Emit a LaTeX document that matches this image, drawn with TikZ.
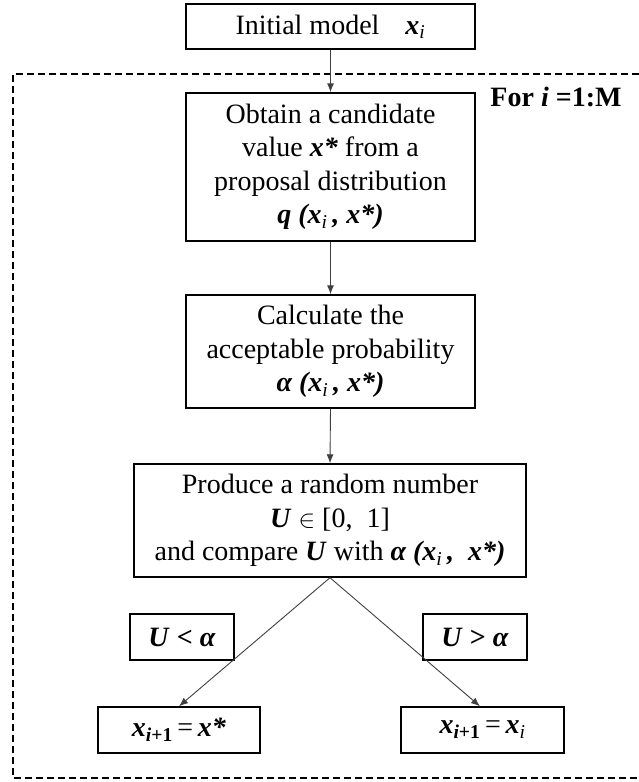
\documentclass[tikz,border=0pt]{standalone}
\usepackage{fontspec}
\setmainfont{Liberation Serif}
\usetikzlibrary{arrows.meta}

% bold italic variables, light italic subscripts
\newcommand{\bv}[1]{\textbf{\textit{#1}}}
\newcommand{\sbi}[1]{\textsubscript{\mdseries\itshape #1}}

\begin{document}
\begin{tikzpicture}[x=1pt,y=-1pt,
  every node/.style={font=\fontsize{28}{33.5}\selectfont},
  box/.style={draw, line width=1.4pt, rectangle, inner sep=0pt, align=center},
  link/.style={draw=black!75, line width=0.9pt, -{Latex[length=9pt,width=7pt]}},
  frame/.style={draw, line width=1.1pt, dash pattern=on 7pt off 4pt}]
\useasboundingbox (0,0) rectangle (639,782);
\fill[white] (0,0) rectangle (639,782);

% loop frame
\draw[frame] (650,74) -- (13,74) -- (13,778) -- (650,778);
\node (loop) at (556,97) {\textbf{For \textit{i} =1:M}};

% main steps
\node[box, minimum width=289pt, minimum height=45pt] (init) at (330.5,26.5)
  {Initial model\hspace{26pt}\bv{x}\sbi{i}};
\node[box, minimum width=289pt, minimum height=148pt] (cand) at (330.5,167)
  {Obtain a candidate\\ value \bv{x*} from a\\ proposal distribution\\ \bv{q (x\sbi{i}\,, x*)}};
\node[box, minimum width=289pt, minimum height=113pt] (prob) at (330.5,351.5)
  {Calculate the\\ acceptable probability\\ \bv{α (x\sbi{i}\,, x*)}};
\node[box, minimum width=392pt, minimum height=113pt] (rand) at (330,520.5)
  {Produce a random number\\ \textbf{\textit{U}} $\in$ [0,\ \ 1]\\ and compare \bv{U} with \bv{α (x\sbi{i}\,,\ \ x*)}};

% decision labels
\node[box, minimum width=104pt, minimum height=46pt] (lt) at (182,637) {\bv{U} \textbf{<} \bv{α}};
\node[box, minimum width=104pt, minimum height=46pt] (gt) at (475,637) {\bv{U} \textbf{>} \bv{α}};

% outcomes
\node[box, minimum width=162pt, minimum height=46pt] (acc) at (179,730)
  {\bv{x}\textsubscript{\textbf{\textit{i}+1}}\,=\,\bv{x*}};
\node[box, minimum width=163pt, minimum height=46pt] (rej) at (482.5,730)
  {\bv{x}\textsubscript{\textbf{\textit{i}+1}}\,=\,\bv{x}\sbi{i}};

% connectors
\draw[link] (init.south) -- (cand.north);
\draw[link] (cand.south) -- (prob.north);
\draw[link] (prob.south) -- (rand.north);
\draw[link] (rand.south) -- (acc.north);
\draw[link] (rand.south) -- (rej.north -| 480,0);
\end{tikzpicture}
\end{document}
